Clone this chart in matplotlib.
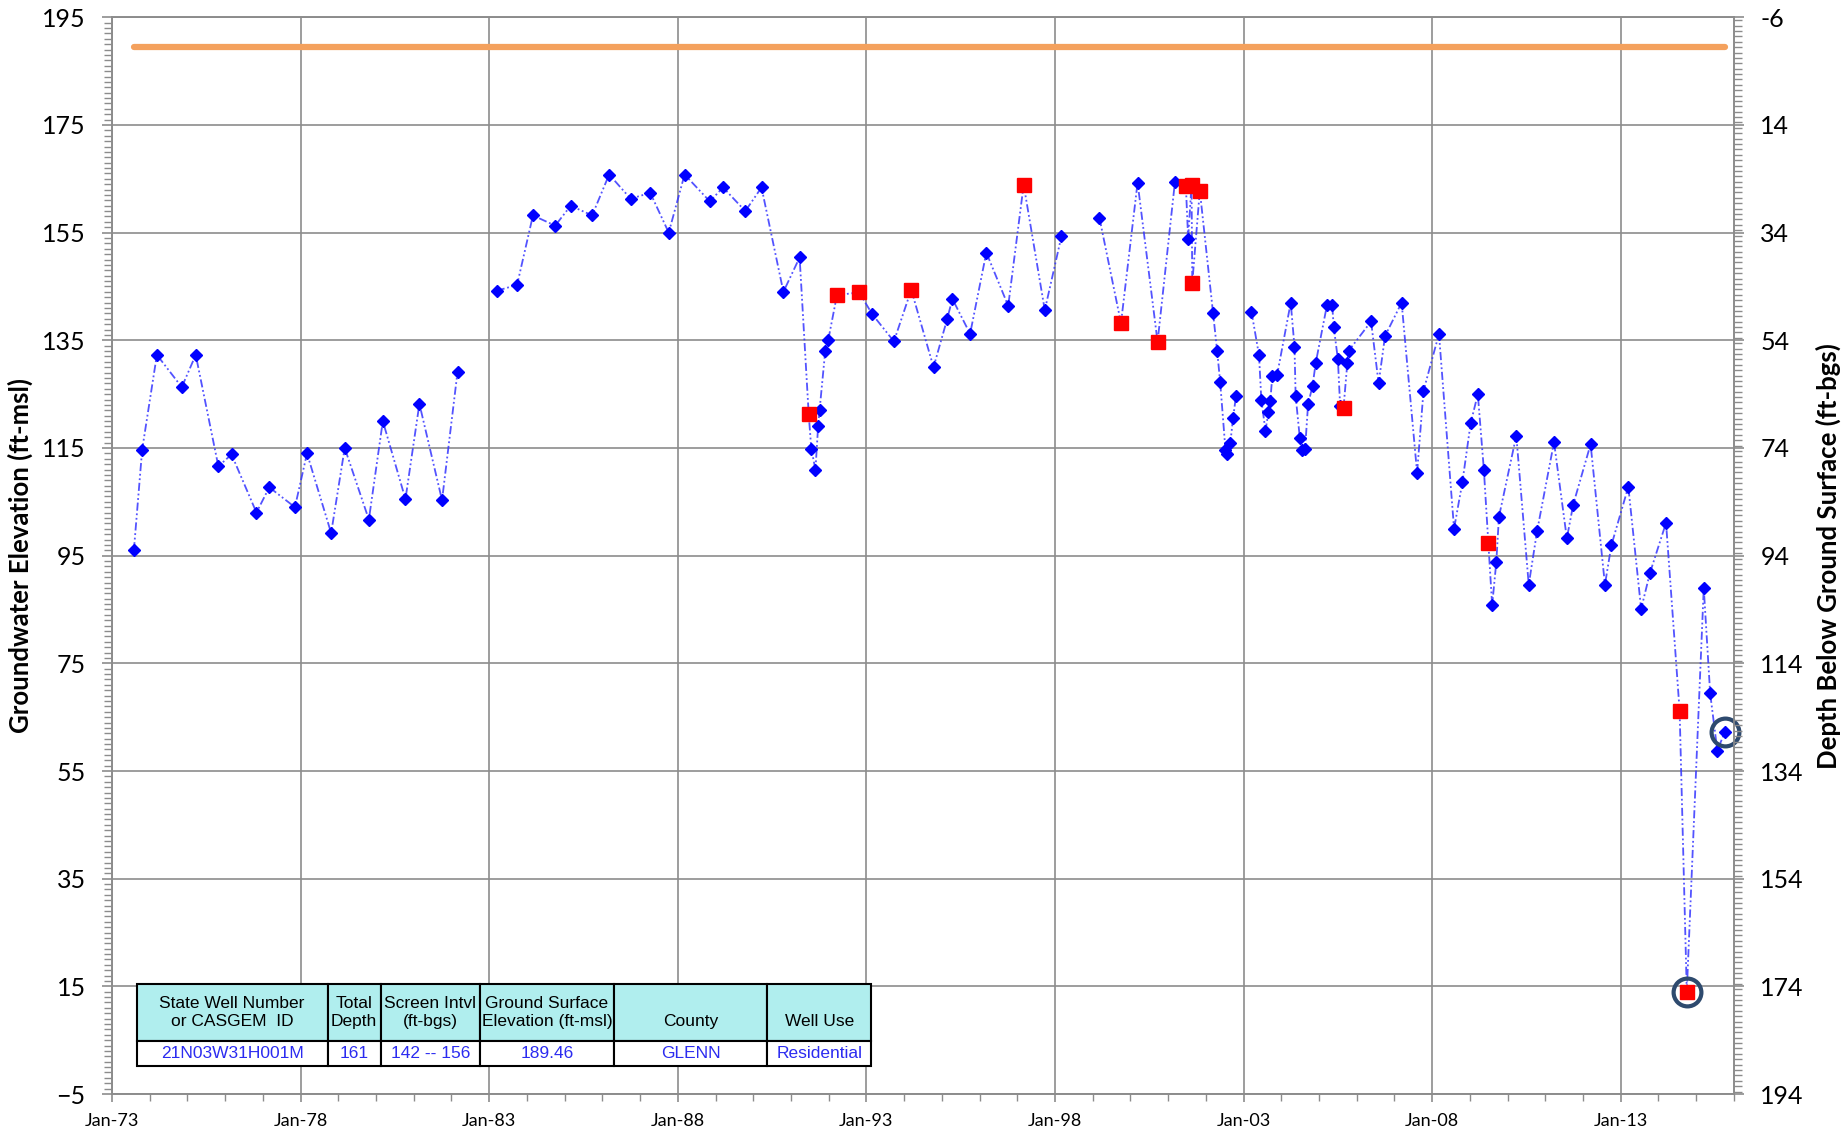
import numpy as np
import matplotlib.pyplot as plt
from matplotlib.ticker import MultipleLocator, FixedLocator, FuncFormatter

# Hydrograph values (decimal years, ft-msl). nan = break in the line
years = [1973.58, 1973.80, 1974.19, 1974.85, 1975.22, 1975.82, 1976.17, 1976.83, 1977.17, 1977.85,
         1978.17, 1978.81, 1979.17, 1979.81, 1980.18, 1980.78, 1981.15, 1981.75, 1982.16, 1982.70,
         1983.20, 1983.74, 1984.16, 1984.75, 1985.16, 1985.73, 1986.18, 1986.75, 1987.27, 1987.76,
         1988.18, 1988.85, 1989.20, 1989.79, 1990.22, 1990.80, 1991.23, 1991.47, 1991.54, 1991.65,
         1991.72, 1991.76, 1991.91, 1991.99, 1992.22, 1992.81, 1993.16, 1993.73, 1994.19, 1994.78,
         1995.14, 1995.28, 1995.75, 1996.18, 1996.76, 1997.17, 1997.73, 1998.17, 1998.70, 1999.18,
         1999.75, 2000.19, 2000.72, 2001.18, 2001.47, 2001.53, 2001.62, 2001.64, 2001.84, 2002.19,
         2002.30, 2002.38, 2002.52, 2002.56, 2002.65, 2002.72, 2002.80, 2003.00, 2003.21, 2003.41,
         2003.47, 2003.58, 2003.66, 2003.71, 2003.76, 2003.89, 2004.25, 2004.35, 2004.38, 2004.49,
         2004.55, 2004.63, 2004.71, 2004.83, 2004.91, 2005.21, 2005.35, 2005.39, 2005.50, 2005.56,
         2005.65, 2005.75, 2005.79, 2006.38, 2006.58, 2006.75, 2007.19, 2007.60, 2007.77, 2008.18,
         2008.58, 2008.80, 2009.02, 2009.21, 2009.37, 2009.49, 2009.59, 2009.70, 2009.77, 2010.23,
         2010.56, 2010.78, 2011.23, 2011.57, 2011.74, 2012.20, 2012.58, 2012.75, 2013.20, 2013.54,
         2013.77, 2014.20, 2014.56, 2014.75, 2015.20, 2015.37, 2015.56, 2015.76]

elevation = [96.0, 114.7, 132.3, 126.3, 132.3, 111.6, 113.8, 103.0, 107.7, 104.0,
             114.0, 99.2, 115.0, 101.7, 120.0, 105.5, 123.2, 105.3, 129.1, np.nan,
             144.2, 145.3, 158.2, 156.3, 160.0, 158.2, 165.8, 161.3, 162.4, 155.0,
             165.8, 160.8, 163.4, 159.0, 163.4, 144.0, 150.4, 121.4, 114.8, 111.0,
             119.0, 122.1, 133.1, 135.1, 143.4, 143.9, 139.8, 134.8, 144.4, 130.0,
             138.9, 142.7, 136.2, 151.3, 141.4, 163.9, 140.6, 154.3, np.nan, 157.7,
             138.2, 164.3, 134.7, 164.4, 163.7, 153.9, 163.9, 145.7, 162.8, 140.1,
             133.0, 127.2, 114.6, 113.9, 116.0, 120.5, 124.7, np.nan, 140.3, 132.2,
             124.0, 118.2, 121.7, 123.8, 128.3, 128.6, 142.0, 133.8, 124.7, 116.9,
             114.7, 114.8, 123.1, 126.6, 130.7, 141.5, 141.5, 137.5, 131.5, 122.8,
             122.5, 130.7, 133.1, 138.5, 127.0, 135.8, 142.0, 110.4, 125.6, 136.2,
             100.0, 108.6, 119.6, 125.0, 111.0, 97.4, 85.8, 93.8, 102.2, 117.3,
             89.6, 99.5, 116.1, 98.2, 104.5, 115.7, 89.6, 96.9, 107.8, 85.1,
             91.7, 101.1, 66.2, 14.0, 89.0, 69.4, 58.8, 62.3]

# 1 = questionable measurement (red square)
questionable = [0, 0, 0, 0, 0, 0, 0, 0, 0, 0,
                0, 0, 0, 0, 0, 0, 0, 0, 0, 0,
                0, 0, 0, 0, 0, 0, 0, 0, 0, 0,
                0, 0, 0, 0, 0, 0, 0, 1, 0, 0,
                0, 0, 0, 0, 1, 1, 0, 0, 1, 0,
                0, 0, 0, 0, 0, 1, 0, 0, 0, 0,
                1, 0, 1, 0, 1, 0, 1, 1, 1, 0,
                0, 0, 0, 0, 0, 0, 0, 0, 0, 0,
                0, 0, 0, 0, 0, 0, 0, 0, 0, 0,
                0, 0, 0, 0, 0, 0, 0, 0, 0, 0,
                1, 0, 0, 0, 0, 0, 0, 0, 0, 0,
                0, 0, 0, 0, 0, 1, 0, 0, 0, 0,
                0, 0, 0, 0, 0, 0, 0, 0, 0, 0,
                0, 0, 1, 1, 0, 0, 0, 0]

# highlighted (circled) measurements
circled_years = [2014.75, 2015.76]
circled_values = [14.0, 62.3]

ground_surface = 189.46

tick_years = [1973, 1978, 1983, 1988, 1993, 1998, 2003, 2008, 2013]
tick_labels = ['Jan-73', 'Jan-78', 'Jan-83', 'Jan-88', 'Jan-93', 'Jan-98', 'Jan-03', 'Jan-08', 'Jan-13']

table_header = ['State Well Number\nor CASGEM  ID', 'Total\nDepth', 'Screen Intvl\n(ft-bgs)',
                'Ground Surface\nElevation (ft-msl)', '\nCounty', '\nWell Use']
table_row = ['21N03W31H001M', '161', '142 -- 156', '189.46', 'GLENN', 'Residential']
table_col_widths = [191, 53, 99.5, 133.7, 153.5, 104.1]

plt.rcParams['font.family'] = ['Lato', 'DejaVu Sans']

years = np.array(years)
elevation = np.array(elevation)
questionable = np.array(questionable, dtype=bool)

fig = plt.figure(figsize=(18.45, 11.31), dpi=100)
ax = fig.add_axes([0.0607, 0.0327, 0.8791, 0.952])

grid_color = '#8c8c8c'

# ground surface line
ax.plot([years[0], years[-1]], [ground_surface, ground_surface], color='#f4a15d', lw=4.5,
        solid_capstyle='round', zorder=3)

# measurements
ax.plot(years, elevation, color='#3535ff', lw=1.3, alpha=0.85,
        linestyle=(0, (4.5, 1.5, 1, 1.5, 1, 1.5)), zorder=4)
ax.plot(years, elevation, 'D', markersize=6.5, color='#0000ff', zorder=4)
ax.plot(years[questionable], elevation[questionable], 's', color='#ff0000', markersize=9.5, zorder=5)
ax.plot(circled_years, circled_values, 'o', markerfacecolor='none', markeredgecolor='#2e4a6e',
        markersize=20, markeredgewidth=3, zorder=6, clip_on=False)

ax.set_xlim(1973, 2016)
ax.set_ylim(-5, 195)
ax.xaxis.set_major_locator(FixedLocator(tick_years))
ax.set_xticklabels(tick_labels)
ax.xaxis.set_minor_locator(MultipleLocator(1))
ax.yaxis.set_major_locator(MultipleLocator(20, offset=-5))
ax.yaxis.set_minor_locator(MultipleLocator(1))
ax.grid(True, which='major', color=grid_color, lw=1.2)
ax.set_axisbelow(True)

ax.tick_params(axis='y', which='major', labelsize=18, length=7, width=1.2, color=grid_color, pad=12)
ax.tick_params(axis='y', which='minor', length=5.5, width=1, color=grid_color)
ax.tick_params(axis='x', which='major', labelsize=13, length=6, width=1.2, color=grid_color, pad=8)
ax.tick_params(axis='x', which='minor', length=5, width=1, color=grid_color)
for s in ax.spines.values():
    s.set_color(grid_color)
    s.set_linewidth(1.2)

ax.set_ylabel('Groundwater Elevation (ft-msl)', fontsize=18.5, fontweight='bold')
ax.yaxis.set_label_coords(-0.0490, 0.5)

# depth axis on the right
ax2 = ax.twinx()
ax2.set_ylim(ground_surface + 5, ground_surface - 195)
ax2.yaxis.set_major_locator(FixedLocator(ground_surface - np.arange(-5, 196, 20)))
ax2.yaxis.set_major_formatter(FuncFormatter(lambda v, p: f'{round(v):.0f}'))
ax2.yaxis.set_minor_locator(MultipleLocator(1))
ax2.tick_params(axis='y', which='major', labelsize=18, length=7, width=1.2, color=grid_color, pad=12)
ax2.tick_params(axis='y', which='minor', length=5.5, width=1, color=grid_color)
for s in ax2.spines.values():
    s.set_color(grid_color)
    s.set_linewidth(1.2)
ax2.set_ylabel('Depth Below Ground Surface (ft-bgs)', fontsize=18.5, fontweight='bold')
ax2.yaxis.set_label_coords(1.0506, 0.5)

# well info table
tab = ax.table(cellText=[table_row], colLabels=table_header, colWidths=table_col_widths,
               cellLoc='center', bbox=[0.0152, 0.026, 0.453, 0.0764])
tab.auto_set_font_size(False)
tab.set_zorder(10)
for (r, c), cell in tab.get_celld().items():
    cell.set_height(57 if r == 0 else 25)
    cell.set_edgecolor('black')
    cell.set_linewidth(1.5)
    txt = cell.get_text()
    txt.set_fontfamily(['Liberation Sans Narrow', 'Liberation Sans', 'DejaVu Sans'])
    txt.set_fontsize(12.5)
    if r == 0:
        cell.set_facecolor('#b0eeee')
        txt.set_color('black')
    else:
        cell.set_facecolor('white')
        txt.set_color('#2b2bf0')

plt.savefig('out.png', dpi=100)
